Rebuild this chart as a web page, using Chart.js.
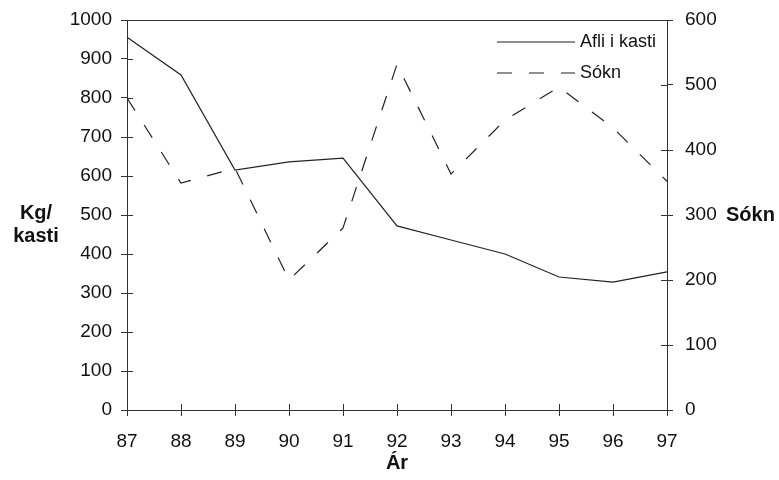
<!DOCTYPE html>
<html>
<head>
<meta charset="utf-8">
<script src="https://cdn.jsdelivr.net/npm/chart.js@4"></script>
<style>
  body { margin: 0; background: #fff; }
</style>
</head>
<body>
<canvas id="canvas" width="779" height="480"></canvas>
<script>
const years = ['87', '88', '89', '90', '91', '92', '93', '94', '95', '96', '97']
const afli = [956, 859, 615, 636, 646, 472, 436, 400, 341, 328, 354]
const sokn = [480, 349, 372, 200, 280, 532, 363, 446, 497, 434, 352]

const leftMax = 1000
const rightMax = 600
const tickStep = 100

const ink = '#111'
const font = { family: 'Liberation Sans, Arial, sans-serif', size: 19 }
const boldFont = 'bold 20px "Liberation Sans", Arial, sans-serif'

// axis titles, top frame line, inner tick halves and the legend
const extras = {
    id: 'extras',
    afterDraw(chart) {
        const ctx = chart.ctx
        const area = chart.chartArea
        const s = chart.scales
        ctx.save()
        ctx.strokeStyle = '#333'
        ctx.lineWidth = 1
        ctx.setLineDash([])
        ctx.beginPath()
        ctx.moveTo(area.left, area.top + 0.5)
        ctx.lineTo(area.right, area.top + 0.5)
        s.y.ticks.forEach(t => {
            const y = Math.round(s.y.getPixelForValue(t.value)) + 0.5
            ctx.moveTo(area.left, y); ctx.lineTo(area.left + 6, y)
        })
        s.y1.ticks.forEach(t => {
            const y = Math.round(s.y1.getPixelForValue(t.value)) + 0.5
            ctx.moveTo(area.right, y); ctx.lineTo(area.right - 6, y)
        })
        s.x.ticks.forEach((t, i) => {
            const x = Math.round(s.x.getPixelForValue(i)) + 0.5
            ctx.moveTo(x, area.bottom); ctx.lineTo(x, area.bottom - 6)
        })
        ctx.stroke()

        ctx.fillStyle = ink
        ctx.font = boldFont
        ctx.textAlign = 'center'
        ctx.textBaseline = 'alphabetic'
        ctx.fillText('Kg/', 36, 219)
        ctx.fillText('kasti', 36, 242)
        ctx.textBaseline = 'middle'
        ctx.fillText('Ár', (area.left + area.right) / 2, 463)
        ctx.textAlign = 'left'
        ctx.fillText('Sókn', 726, s.y1.getPixelForValue(300))

        // legend
        ctx.font = '18px "Liberation Sans", Arial, sans-serif'
        chart.data.datasets.forEach((ds, i) => {
            const y = 42 + i * 31
            ctx.strokeStyle = ds.borderColor
            ctx.lineWidth = ds.borderWidth
            ctx.setLineDash(ds.borderDash || [])
            ctx.beginPath()
            ctx.moveTo(497, y)
            ctx.lineTo(575, y)
            ctx.stroke()
            ctx.fillText(ds.label, 580, y)
        })
        ctx.restore()
    }
}

const data = {
    labels: years,
    datasets: [
        {
            label: 'Afli i kasti',
            data: afli,
            yAxisID: 'y',
            borderColor: '#222',
            borderWidth: 1.2,
            pointRadius: 0,
            tension: 0,
        },
        {
            label: 'Sókn',
            data: sokn,
            yAxisID: 'y1',
            borderColor: '#222',
            borderWidth: 1.2,
            borderDash: [15, 17],
            pointRadius: 0,
            tension: 0,
        }
    ]
}

const tickGrid = { drawOnChartArea: false, tickLength: 6, color: '#333' }
const plain = v => String(v)
const fitY = w => s => { s.width = w; s.paddingTop = 0 }

const config = {
    type: 'line',
    data: data,
    plugins: [extras],
    options: {
        responsive: false,
        animation: false,
        devicePixelRatio: 1,
        layout: { padding: { top: 20, left: 0, right: 0, bottom: 0 } },
        plugins: { legend: { display: false }, tooltip: { enabled: false } },
        scales: {
            x: {
                offset: false,
                grid: tickGrid,
                border: { color: '#333' },
                ticks: { font: font, color: ink, padding: 14, maxRotation: 0 },
                afterFit: s => { s.height = 70 },
            },
            y: {
                position: 'left',
                min: 0,
                max: leftMax,
                grid: tickGrid,
                border: { color: '#333' },
                ticks: { stepSize: tickStep, font: font, color: ink, padding: 9, callback: plain },
                afterFit: fitY(127),
            },
            y1: {
                position: 'right',
                min: 0,
                max: rightMax,
                grid: tickGrid,
                border: { color: '#333' },
                ticks: { stepSize: tickStep, font: font, color: ink, padding: 12, callback: plain },
                afterFit: fitY(112),
            }
        }
    }
}

const canvas = document.getElementById('canvas')
const chart = new Chart(canvas, config)
</script>
</body>
</html>
